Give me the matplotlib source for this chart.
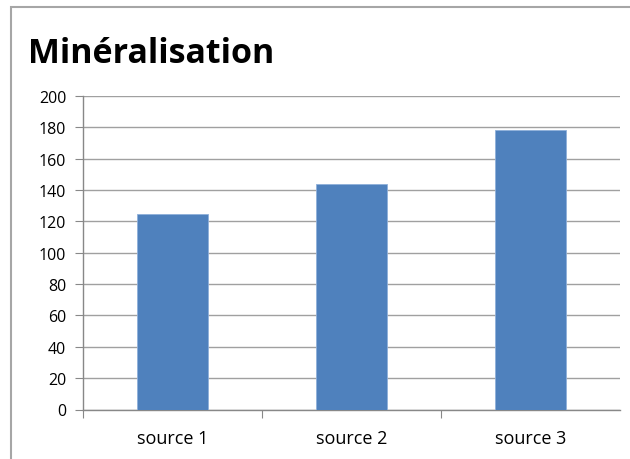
import matplotlib
matplotlib.use("Agg")
import matplotlib.pyplot as plt
from matplotlib.patches import Rectangle

categories = ["source 1", "source 2", "source 3"]
values = [125, 144, 178]
y_ticks = [0, 20, 40, 60, 80, 100, 120, 140, 160, 180, 200]

plt.rcParams["font.family"] = ["Open Sans", "DejaVu Sans"]

fig = plt.figure(figsize=(6.3, 4.6), dpi=100)
fig.patch.set_facecolor("white")

# chart frame
frame = Rectangle((11 / 630, -0.05), 1.2, 0.05 + (460 - 8) / 460,
                  transform=fig.transFigure, fill=False,
                  edgecolor="#a6a6a6", linewidth=1.5, zorder=0)
fig.patches.append(frame)

ax = fig.add_axes([83 / 630, (460 - 410.5) / 460, (620 - 83) / 630, (410.5 - 97) / 460])

x = list(range(len(categories)))
ax.bar(x, values, width=0.4, color="#4F81BD", edgecolor="#8fb0da", linewidth=0.6, zorder=3)

ax.set_xlim(-0.5, len(categories) - 0.5)
ax.set_ylim(0, 200)
ax.set_yticks(y_ticks)
ax.set_yticklabels([str(v) for v in y_ticks], fontsize=11.5)
ax.yaxis.grid(True, color="#a0a0a0", linewidth=1.0, zorder=0)
ax.set_axisbelow(True)

ax.set_xticks([i - 0.5 for i in x])
ax.set_xticklabels([])
ax.set_xticks(x, minor=True)
ax.set_xticklabels(categories, minor=True, fontsize=13)
ax.tick_params(axis="x", which="minor", length=0, pad=14)
ax.tick_params(axis="x", which="major", length=6, color="#888888", direction="out")
ax.tick_params(axis="y", length=6, color="#888888", direction="out", pad=6)

for side in ("top", "right"):
    ax.spines[side].set_visible(False)
for side in ("left", "bottom"):
    ax.spines[side].set_color("#888888")
    ax.spines[side].set_linewidth(1.0)

fig.text(28 / 630, 1 - 63 / 460, "Minéralisation", fontsize=24.5, fontweight="bold",
         ha="left", va="baseline")

fig.savefig("out.png", dpi=100, facecolor="white")
